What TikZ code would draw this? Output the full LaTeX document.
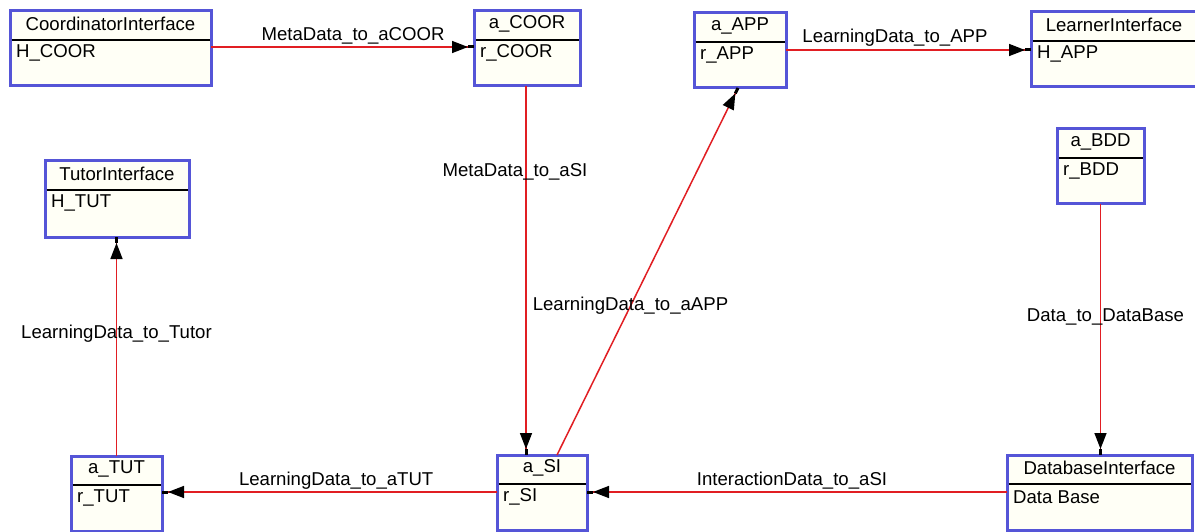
\documentclass[tikz,border=0pt]{standalone}
\usepackage{fontspec}
\setmainfont{Liberation Sans}
\usetikzlibrary{arrows.meta,calc}
\definecolor{boxblue}{RGB}{85,85,215}
\definecolor{boxfill}{RGB}{255,255,246}
\definecolor{lnred}{RGB}{225,30,35}
\tikzset{
  ubox/.style={draw=boxblue, fill=boxfill, line width=3pt, inner sep=0pt, outer sep=0pt},
  divider/.style={draw=black, line width=1.4pt},
  btitle/.style={font=\fontsize{18.6}{21}\selectfont, inner sep=0pt},
  battr/.style={font=\fontsize{18.6}{21}\selectfont, inner sep=0pt, anchor=west},
  lbl/.style={font=\fontsize{18.6}{21}\selectfont, inner sep=0pt, text=black},
  conn/.style={draw=lnred, line width=1.5pt,
    -{Triangle[black,length=16pt 0,width=12pt 0] Rectangle[black,length=6pt 0,width=3pt 0]}},
}
\newcommand\umlbox[7]{%
  \node[ubox, minimum width=#4pt, minimum height=#5pt, anchor=north west] (#1) at (#2,#3) {};
  \draw[divider] ([yshift=-29pt,xshift=1.5pt]#1.north west) -- ([yshift=-29pt,xshift=-1.5pt]#1.north east);
  \node[btitle] (#1-t) at ([yshift=-13pt]#1.north) {#6};
  \node[battr] (#1-a) at ([yshift=-42pt,xshift=6pt]#1.north west) {#7};
}
\begin{document}
\begin{tikzpicture}[x=1pt,y=-1pt]
\useasboundingbox[fill=white] (0,0) rectangle (1195,532);
\umlbox{coor}{10}{11}{201}{75}{CoordinatorInterface}{H\_COOR}
\umlbox{acoor}{474}{11}{106}{75}{a\_COOR}{r\_COOR}
\umlbox{aapp}{694}{13}{92}{75}{a\_APP}{r\_APP}
\umlbox{learner}{1031}{12}{166}{75}{LearnerInterface}{H\_APP}
\umlbox{tutor}{45}{161}{144}{76}{TutorInterface}{H\_TUT}
\umlbox{abdd}{1057}{129}{87}{75}{a\_BDD}{r\_BDD}
\umlbox{atut}{71}{456}{91}{75}{a\_TUT}{r\_TUT}
\umlbox{asi}{497}{455}{90}{75}{a\_SI}{r\_SI}
\umlbox{db}{1007}{455}{185}{75}{DatabaseInterface}{Data Base}

% connectors
\draw[conn] ([yshift=-36pt]coor.north east) -- ([yshift=-36pt]coor.north east -| acoor.west)
  node[lbl, pos=0.54, yshift=11pt] {MetaData\_to\_aCOOR};
\draw[conn] ([yshift=-37pt]aapp.north east) -- ([yshift=-37pt]aapp.north east -| learner.west)
  node[lbl, pos=0.445, yshift=12pt] {LearningData\_to\_APP};
\draw[conn] ([xshift=-1pt]acoor.south) -- ([xshift=-1pt]acoor.south |- asi.north)
  node[lbl, pos=0.233, xshift=-11pt] {MetaData\_to\_aSI};
\draw[conn] ([xshift=15pt]asi.north) -- ([xshift=-2pt]aapp.south)
  node[lbl, pos=0.406] {LearningData\_to\_aAPP};
\draw[conn] (abdd.south) -- (abdd.south |- db.north)
  node[lbl, pos=0.45, xshift=5pt] {Data\_to\_DataBase};
\draw[conn] ([yshift=-37pt]db.north west) -- ([yshift=-37pt]db.north west -| asi.east)
  node[lbl, pos=0.512, yshift=11pt] {InteractionData\_to\_aSI};
\draw[conn] ([yshift=-37pt]asi.north west) -- ([yshift=-37pt]asi.north west -| atut.east)
  node[lbl, pos=0.48, yshift=11pt] {LearningData\_to\_aTUT};
\draw[conn] (atut.north) -- (atut.north |- tutor.south)
  node[lbl, pos=0.557] {LearningData\_to\_Tutor};
\end{tikzpicture}
\end{document}
